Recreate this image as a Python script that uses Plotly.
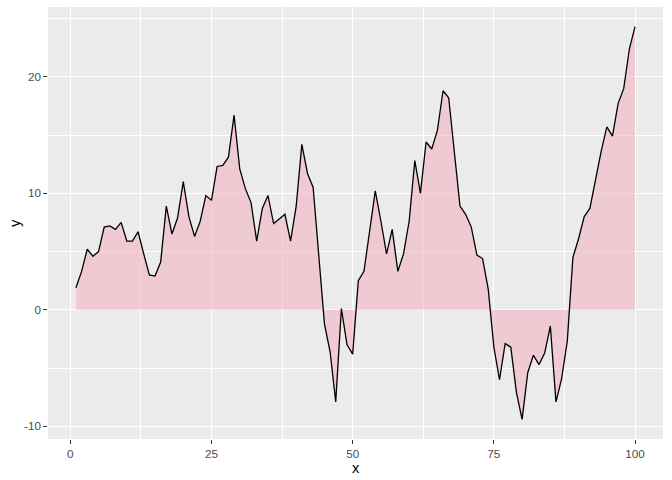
import plotly.graph_objects as go

x_vals = list(range(1, 101))
y_vals = [1.9, 3.3, 5.2, 4.6, 5.0, 7.1, 7.2, 6.9, 7.5, 5.9,
          5.9, 6.7, 4.8, 3.0, 2.9, 4.1, 8.9, 6.5, 7.9, 11.0,
          8.0, 6.3, 7.6, 9.8, 9.4, 12.3, 12.4, 13.1, 16.7, 12.1,
          10.4, 9.2, 5.9, 8.7, 9.8, 7.4, 7.8, 8.2, 5.9, 8.9,
          14.2, 11.7, 10.5, 4.5, -1.2, -3.6, -7.9, 0.1, -3.0, -3.8,
          2.5, 3.3, 6.7, 10.2, 7.6, 4.8, 6.9, 3.3, 4.8, 7.6,
          12.8, 10.0, 14.4, 13.8, 15.4, 18.8, 18.2, 13.8, 8.9, 8.2,
          7.1, 4.7, 4.4, 1.8, -3.2, -6.0, -2.9, -3.2, -7.1, -9.4,
          -5.4, -3.9, -4.7, -3.7, -1.4, -7.9, -5.9, -2.7, 4.5, 6.1,
          8.0, 8.7, 11.3, 13.6, 15.7, 14.9, 17.7, 19.0, 22.4, 24.3]
x_ticks = [0, 25, 50, 75, 100]
y_ticks = [-10, 0, 10, 20]

fig = go.Figure()
fig.add_trace(go.Scatter(
    x=x_vals, y=y_vals, mode="lines", fill="tozeroy",
    fillcolor="rgba(243,180,193,0.6)",
    line=dict(color="black", width=1.3),
    hoverinfo="skip", showlegend=False,
))

ymin, ymax = min(y_vals), max(y_vals)
yr = ymax - ymin
xr = 99

FONT = "Liberation Sans, Arial, sans-serif"
axis_common = dict(
    showgrid=True, gridcolor="white", gridwidth=1.07,
    zeroline=False, showline=False, automargin=False,
    ticks="outside", ticklen=3.65, tickwidth=1.07, tickcolor="#333333",
    tickfont=dict(family=FONT, size=11.7, color="#4D4D4D"),
)

fig.update_layout(
    width=672, height=480,
    margin=dict(l=48, r=9, t=7, b=41),
    paper_bgcolor="white", plot_bgcolor="#EBEBEB",
    font=dict(family=FONT),
    xaxis=dict(
        **axis_common,
        range=[1 - 0.05 * xr, 100 + 0.05 * xr],
        tickmode="array", tickvals=x_ticks, ticktext=[str(v) for v in x_ticks],
        minor=dict(tickmode="array", tickvals=[12.5, 37.5, 62.5, 87.5],
                   showgrid=True, gridcolor="white", gridwidth=0.53, ticks=""),
    ),
    yaxis=dict(
        **axis_common,
        range=[ymin - 0.05 * yr, ymax + 0.05 * yr],
        tickmode="array", tickvals=y_ticks, ticktext=[str(v) for v in y_ticks],
        minor=dict(tickmode="array", tickvals=[-5, 5, 15, 25],
                   showgrid=True, gridcolor="white", gridwidth=0.53, ticks=""),
    ),
    annotations=[
        dict(text="x", xref="paper", yref="paper", x=0.5, y=0, yshift=-29,
             xanchor="center", yanchor="middle", showarrow=False,
             font=dict(family=FONT, size=14.7, color="black")),
        dict(text="y", xref="paper", yref="paper", x=0, y=0.5, xshift=-33,
             xanchor="center", yanchor="middle", showarrow=False, textangle=-90,
             font=dict(family=FONT, size=14.7, color="black")),
    ],
)

fig.write_html("out.html", config={"displayModeBar": False},
               post_script="document.body.style.margin='0';")
